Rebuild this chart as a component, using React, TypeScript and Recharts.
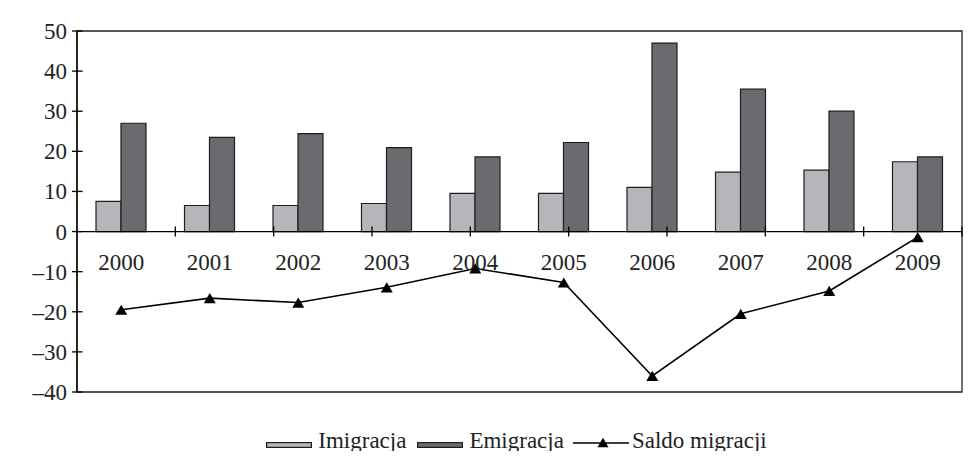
import { ComposedChart, Bar, Line, XAxis, YAxis, ReferenceLine, ReferenceArea } from 'recharts';

const years = ['2000', '2001', '2002', '2003', '2004', '2005', '2006', '2007', '2008', '2009'];
const imigracja = [7.5, 6.5, 6.5, 7, 9.5, 9.5, 11, 14.8, 15.3, 17.4];
const emigracja = [27, 23.5, 24.4, 20.9, 18.6, 22.2, 47, 35.5, 30, 18.6];
const saldo = [-19.5, -16.6, -17.7, -13.9, -9.2, -12.7, -36, -20.5, -14.8, -1.4];
const yTicks = [50, 40, 30, 20, 10, 0, -10, -20, -30, -40];

const W = 977;
const H = 459;
const PLOT_LEFT = 77;
const PLOT_TOP = 31;
const PLOT_RIGHT = 962;
const PLOT_BOTTOM = 392;
const X_AXIS_H = 30;
const ZERO_Y = PLOT_TOP + ((PLOT_BOTTOM - PLOT_TOP) * 50) / 90;
// tick half-length in data units
const TICK_Y = 5 / ((PLOT_BOTTOM - PLOT_TOP) / 90);
const TICK_X = (5 / (PLOT_RIGHT - PLOT_LEFT)) * years.length;

const FONT = '"Liberation Serif", "Times New Roman", Times, Tinos, serif';
const TEXT = '#222';
const LIGHT = '#b5b6ba';
const DARK = '#6a6a6f';
const EDGE = '#1e1e1e';

const data = years.map((y, i) => ({
  year: y,
  imigracja: imigracja[i],
  emigracja: emigracja[i],
  saldo: saldo[i],
}));

const Triangle = ({ cx, cy, size = 12 }: any) => {
  if (cx == null || cy == null) return null;
  const h = size * 0.85;
  return (
    <path
      d={`M${cx},${cy - h / 2} L${cx + size / 2},${cy + h / 2} L${cx - size / 2},${cy + h / 2} Z`}
      fill="#000"
    />
  );
};

const XTick = ({ x, payload }: any) => (
  <text x={x} y={ZERO_Y + 38} textAnchor="middle" fontFamily={FONT} fontSize={23} fill={TEXT}>
    {payload.value}
  </text>
);

const YTick = ({ y, payload }: any) => {
  const v = payload.value as number;
  const label = v < 0 ? `–${Math.abs(v)}` : `${v}`;
  return (
    <text x={67} y={y + 8} textAnchor="end" fontFamily={FONT} fontSize={23} fill={TEXT}>
      {label}
    </text>
  );
};

const Swatch = ({ color }: { color: string }) => (
  <svg width={46} height={6} style={{ marginRight: 6 }}>
    <rect x={0.6} y={0.6} width={44.8} height={4.8} fill={color} stroke={EDGE} strokeWidth={1.2} />
  </svg>
);

export default function App() {
  return (
    <div
      style={{
        position: 'relative',
        margin: -8,
        width: W,
        height: H,
        overflow: 'hidden',
        background: '#fff',
      }}
    >
      <svg width={W} height={H} style={{ position: 'absolute', left: 0, top: 0 }}>
        <path d={`M5,${H + 5}V7H${W + 5}`} fill="none" stroke="#3a3a3a" strokeWidth={2} />
      </svg>
      <div style={{ position: 'absolute', left: 0, top: 0 }}>
        <ComposedChart
          width={W}
          height={H}
          data={data}
          margin={{ top: PLOT_TOP, right: W - PLOT_RIGHT, bottom: H - PLOT_BOTTOM - X_AXIS_H, left: 0 }}
          barCategoryGap={19}
          barGap={0}
        >
          <XAxis
            dataKey="year"
            height={X_AXIS_H}
            axisLine={false}
            tickLine={false}
            tick={XTick}
            interval={0}
          />
          <XAxis xAxisId="num" type="number" domain={[0, years.length]} hide allowDataOverflow />
          <YAxis
            width={PLOT_LEFT}
            domain={[-40, 50]}
            ticks={yTicks}
            interval={0}
            axisLine={{ stroke: '#000', strokeWidth: 1.3 }}
            tickLine={{ stroke: '#000', strokeWidth: 1.3 }}
            tickSize={5}
            tick={YTick}
          />
          <ReferenceArea y1={-40} y2={50} fill="none" stroke="#222" strokeWidth={1.3} fillOpacity={0} />
          <Bar dataKey="imigracja" fill={LIGHT} stroke={EDGE} strokeWidth={1.2} isAnimationActive={false} />
          <Bar dataKey="emigracja" fill={DARK} stroke={EDGE} strokeWidth={1.2} isAnimationActive={false} />
          <ReferenceLine y={0} stroke="#000" strokeWidth={1.3} />
          {years.slice(1).map((_, i) => (
            <ReferenceLine
              key={`xb${i}`}
              xAxisId="num"
              segment={[
                { x: i + 1, y: -TICK_Y },
                { x: i + 1, y: TICK_Y },
              ]}
              stroke="#000"
              strokeWidth={1.3}
            />
          ))}
          {yTicks.map((v) => (
            <ReferenceLine
              key={`yt${v}`}
              xAxisId="num"
              segment={[
                { x: 0, y: v },
                { x: TICK_X, y: v },
              ]}
              stroke="#000"
              strokeWidth={1.3}
            />
          ))}
          <Line
            dataKey="saldo"
            stroke="#000"
            strokeWidth={1.6}
            dot={<Triangle />}
            activeDot={false}
            isAnimationActive={false}
          />
        </ComposedChart>
      </div>
      <div
        style={{
          position: 'absolute',
          left: 0,
          top: 430,
          width: W,
          display: 'flex',
          justifyContent: 'center',
          alignItems: 'baseline',
          fontFamily: FONT,
          fontSize: 23,
          lineHeight: '22px',
          color: TEXT,
          paddingLeft: 56,
          boxSizing: 'border-box',
        }}
      >
        <Swatch color={LIGHT} />
        <span style={{ marginRight: 11 }}>Imigracja</span>
        <Swatch color={DARK} />
        <span style={{ marginRight: 9 }}>Emigracja</span>
        <svg width={56} height={12} style={{ marginRight: 3, marginBottom: -1 }}>
          <line x1={0} x2={56} y1={7} y2={7} stroke="#000" strokeWidth={1.5} />
          <Triangle cx={30} cy={6.5} size={11} />
        </svg>
        <span>Saldo migracji</span>
      </div>
    </div>
  );
}
